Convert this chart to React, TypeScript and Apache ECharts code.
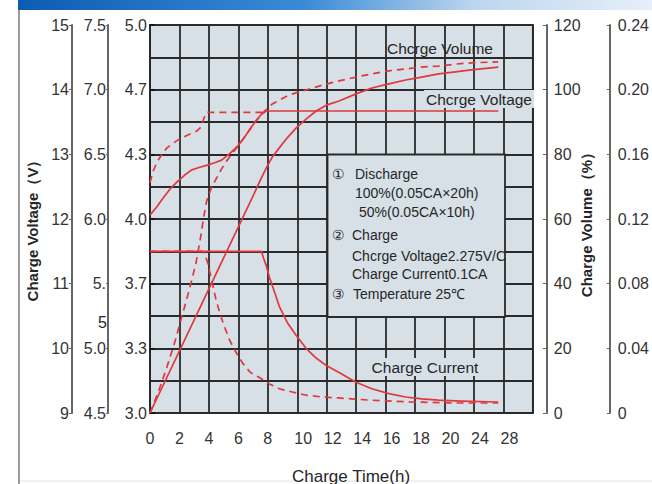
import React, { useEffect, useRef } from "react";
import * as echarts from "echarts";

// x positions are grid positions (each cell = 2 units), labels below
const timeTicks = ["0", "2", "4", "6", "8", "10", "12", "14", "16", "18", "20", "24", "28", ""];

// Charge voltage (12V battery scale, V)
const voltage100 = [
  [0, 12.06], [0.47, 12.19], [0.88, 12.32], [1.35, 12.46], [1.82, 12.57], [2.36, 12.68],
  [2.84, 12.76], [3.38, 12.8], [3.85, 12.83], [4.39, 12.87], [4.86, 12.91], [5.41, 13.01],
  [5.88, 13.11], [6.35, 13.24], [6.76, 13.38], [7.16, 13.51], [7.57, 13.62], [7.9, 13.67],
  [23.65, 13.67],
];
const voltage50 = [
  [0, 12.56], [0.2, 12.73], [0.47, 12.88], [0.81, 13.0], [1.15, 13.1], [1.55, 13.17],
  [2.03, 13.24], [2.57, 13.3], [3.18, 13.36], [3.45, 13.42], [3.65, 13.55], [3.85, 13.65],
  [7.97, 13.65],
];
// Charge volume (%)
const volume100 = [
  [0, 0], [3.5, 33.6], [7.09, 68.0], [7.5, 72.1], [7.9, 75.8], [8.31, 79.2], [8.78, 82.0],
  [9.32, 85.1], [9.93, 88.2], [10.6, 90.9], [11.28, 93.4], [12.03, 95.3], [12.84, 96.5],
  [13.99, 98.7], [15.07, 100.5], [16.22, 101.8], [17.36, 103.0], [18.45, 103.9],
  [19.6, 104.9], [20.74, 105.5], [21.82, 106.1], [23.65, 107.0],
];
const volume50 = [
  [0, 0], [0.54, 6.2], [1.15, 14.2], [1.69, 22.0], [2.23, 30.9], [2.7, 38.7], [3.11, 46.1],
  [3.45, 54.7], [3.65, 60.6], [3.85, 65.6], [4.19, 69.9], [4.53, 72.7], [4.86, 75.5],
  [5.2, 77.9], [5.88, 82.0], [6.76, 87.5], [7.57, 92.5], [8.31, 95.6], [9.46, 98.4],
  [10.6, 99.9], [11.7, 101.4], [12.84, 102.7], [13.99, 103.9], [15.07, 104.9], [16.2, 105.8],
  [17.36, 106.4], [18.45, 107.0], [19.6, 107.3], [20.74, 107.9], [21.82, 108.3], [23.65, 108.6],
];
// Charge current (CA)
const current100 = [
  [0, 0.1], [7.57, 0.1], [7.7, 0.096], [7.9, 0.091], [8.11, 0.084], [8.45, 0.075],
  [8.78, 0.066], [9.32, 0.056], [9.93, 0.048], [10.6, 0.04], [11.28, 0.034], [12.03, 0.029],
  [12.84, 0.025], [13.99, 0.019], [15.07, 0.015], [16.22, 0.012], [17.36, 0.0099],
  [18.45, 0.0087], [19.6, 0.008], [21.15, 0.0074], [23.65, 0.0068],
];
const current50 = [
  [0, 0.1], [3.58, 0.1], [3.72, 0.098], [3.92, 0.093], [4.19, 0.082], [4.46, 0.071],
  [4.73, 0.062], [5.07, 0.053], [5.41, 0.045], [5.81, 0.038], [6.28, 0.031], [6.82, 0.025],
  [7.43, 0.022], [8.11, 0.018], [8.78, 0.015], [9.66, 0.013], [10.6, 0.011], [11.69, 0.0099],
  [12.84, 0.0093], [14.86, 0.008], [17.77, 0.0068], [20.95, 0.0062], [23.65, 0.0062],
];

const legendLines = [
  { t: "①", x: 332, y: 174 },
  { t: "Discharge", x: 355, y: 174 },
  { t: "100%(0.05CA×20h)", x: 355, y: 193 },
  { t: "50%(0.05CA×10h)", x: 359, y: 212 },
  { t: "②", x: 332, y: 235 },
  { t: "Charge", x: 352, y: 235 },
  { t: "Chcrge Voltage2.275V/C", x: 352, y: 256 },
  { t: "Charge Current0.1CA", x: 352, y: 274 },
  { t: "③", x: 332, y: 294 },
  { t: "Temperature 25℃", x: 353, y: 294 },
];

const FONT = "'Liberation Sans', Arial, sans-serif";
const RED = "#e0383d";
const BG = "#d6e0e6";
const GRID = "#2a2a2a";
const AX = "#666";

function txt(text: string, x: number, y: number, size: number, extra: any = {}) {
  return {
    type: "text",
    x,
    y,
    z: 100,
    ...extra,
    style: {
      text,
      fontSize: size,
      fontFamily: FONT,
      fill: "#262626",
      align: extra.align || "left",
      textAlign: extra.align || "left",
      verticalAlign: "middle",
      textVerticalAlign: "middle",
      fontWeight: extra.fontWeight || "normal",
      backgroundColor: extra.bg,
      padding: extra.bg ? [1, 2] : 0,
    },
  };
}

export default function App() {
  const ref = useRef<HTMLDivElement>(null);
  useEffect(() => {
    if (!ref.current) return;
    const chart = echarts.init(ref.current, undefined, { renderer: "svg" });
    const lineSeries = (data: number[][], yAxisIndex: number, dashed: boolean) => ({
      type: "line",
      data,
      yAxisIndex,
      smooth: false,
      showSymbol: false,
      symbol: "none",
      lineStyle: { color: RED, width: 1.7, type: dashed ? [7, 5] : "solid", join: "round" },
      z: 5,
    });
    const tickLabel = { color: "#333", fontSize: 16, fontFamily: FONT };
    chart.setOption({
      animation: false,
      textStyle: { fontFamily: FONT },
      grid: {
        left: 150, right: 117, top: 25, bottom: 71,
        show: true, backgroundColor: BG, borderColor: GRID, borderWidth: 1.8,
      },
      xAxis: {
        type: "value", min: 0, max: 26, interval: 2,
        axisLine: { show: true, lineStyle: { color: GRID, width: 1.8 } },
        axisTick: { show: false },
        splitLine: { show: true, lineStyle: { color: GRID, width: 1.8 } },
        axisLabel: {
          ...tickLabel, margin: 17,
          formatter: (v: number) => {
            const lab = timeTicks[Math.round(v / 2)] || "";
            if (!lab) return "";
            return v >= 10 ? `{s|${lab}}` : lab;
          },
          rich: { s: { ...tickLabel, padding: [0, 0, 0, 12] } },
        },
      },
      yAxis: [
        { // grid helper
          type: "value", position: "right", min: 0, max: 120, interval: 10,
          axisLine: { show: false }, axisTick: { show: false }, axisLabel: { show: false },
          splitLine: { show: true, lineStyle: { color: GRID, width: 1.8 } },
        },
        { // charge volume
          type: "value", position: "right", offset: 14, min: 0, max: 120, interval: 20,
          axisLine: { show: true, lineStyle: { color: AX, width: 2 } },
          axisTick: { show: true, inside: true, length: 4, lineStyle: { color: AX } },
          axisLabel: { ...tickLabel, margin: 7 },
          splitLine: { show: false },
        },
        { // charge current
          type: "value", position: "right", offset: 77, min: 0, max: 0.24, interval: 0.04,
          axisLine: { show: true, lineStyle: { color: AX, width: 2 } },
          axisTick: { show: true, inside: true, length: 3, lineStyle: { color: AX } },
          axisLabel: { ...tickLabel, margin: 8, formatter: (v: number) => (v === 0 ? "0" : v.toFixed(2)) },
          splitLine: { show: false },
        },
        { // 12V scale
          type: "value", position: "left", offset: 78, min: 9, max: 15, interval: 1,
          axisLine: { show: true, lineStyle: { color: AX, width: 2 } },
          axisTick: { show: true, length: 3, lineStyle: { color: AX } },
          axisLabel: { ...tickLabel, margin: 3 },
          splitLine: { show: false },
        },
        { // 6V scale
          type: "value", position: "left", offset: 42, min: 4.5, max: 7.5, interval: 0.5,
          axisLine: { show: true, lineStyle: { color: AX, width: 2 } },
          axisTick: { show: true, length: 2, lineStyle: { color: AX } },
          axisLabel: { ...tickLabel, margin: 2, formatter: (v: number) => (Math.abs(v - 5.5) < 1e-6 ? "5." : v.toFixed(1)) },
          splitLine: { show: false },
        },
        { // 4V scale (shares the 12V range, labelled per 2 cells)
          type: "value", position: "left", offset: 0, min: 9, max: 15, interval: 1,
          axisLine: { show: true, lineStyle: { color: GRID, width: 1.8 } },
          axisTick: { show: true, inside: true, length: 5, lineStyle: { color: "#111", width: 1.5 } },
          axisLabel: { ...tickLabel, margin: 3, formatter: (v: number) => (v / 3).toFixed(1) },
          splitLine: { show: false },
        },
      ],
      series: [
        lineSeries(voltage100, 3, false),
        lineSeries(voltage50, 3, true),
        lineSeries(volume100, 1, false),
        lineSeries(volume50, 1, true),
        lineSeries(current100, 2, false),
        lineSeries(current50, 2, true),
      ],
      graphic: [
        {
          type: "rect", shape: { x: 18, y: 0, width: 634, height: 10 }, z: 100,
          style: {
            fill: new echarts.graphic.LinearGradient(0, 0, 1, 0, [
              { offset: 0, color: "#0b5db3" },
              { offset: 0.45, color: "#3a8ad6" },
              { offset: 0.72, color: "#bcd6ee" },
              { offset: 1, color: "#e6eff8" },
            ]),
          },
        },
        { type: "line", shape: { x1: 19, y1: 10, x2: 19, y2: 484 }, z: 100, style: { stroke: "#9a9a9a", lineWidth: 2 } },
        { type: "line", shape: { x1: 20, y1: 481, x2: 652, y2: 481 }, z: 100, style: { stroke: "#e2e2e2", lineWidth: 1 } },
        {
          type: "rect", shape: { x: 327.5, y: 154.5, width: 177.5, height: 162.5 }, z: 50,
          style: { fill: BG, stroke: GRID, lineWidth: 1.8 },
        },
        ...legendLines.map((l) => txt(l.t, l.x, l.y, 14)),
        txt("Chcrge Volume", 440, 48, 15.5, { align: "center" }),
        txt("Chcrge Voltage", 479, 99, 15.5, { align: "center", bg: BG }),
        txt("Charge Current", 425, 367, 15.5, { align: "center", bg: BG }),
        txt("5", 107, 322, 16, { align: "right" }),
        txt("Charge Voltage（V）", 32, 227, 15, { align: "center", fontWeight: "bold", rotation: Math.PI / 2 }),
        txt("Charge Volume（%）", 586, 221, 15, { align: "center", fontWeight: "bold", rotation: Math.PI / 2 }),
        txt("Charge Time(h)", 351, 476, 17, { align: "center" }),
      ],
    });
    return () => chart.dispose();
  }, []);
  return (
    <div
      ref={ref}
      style={{ position: "fixed", left: 0, top: 0, width: 652, height: 484, background: "#fff" }}
    />
  );
}
